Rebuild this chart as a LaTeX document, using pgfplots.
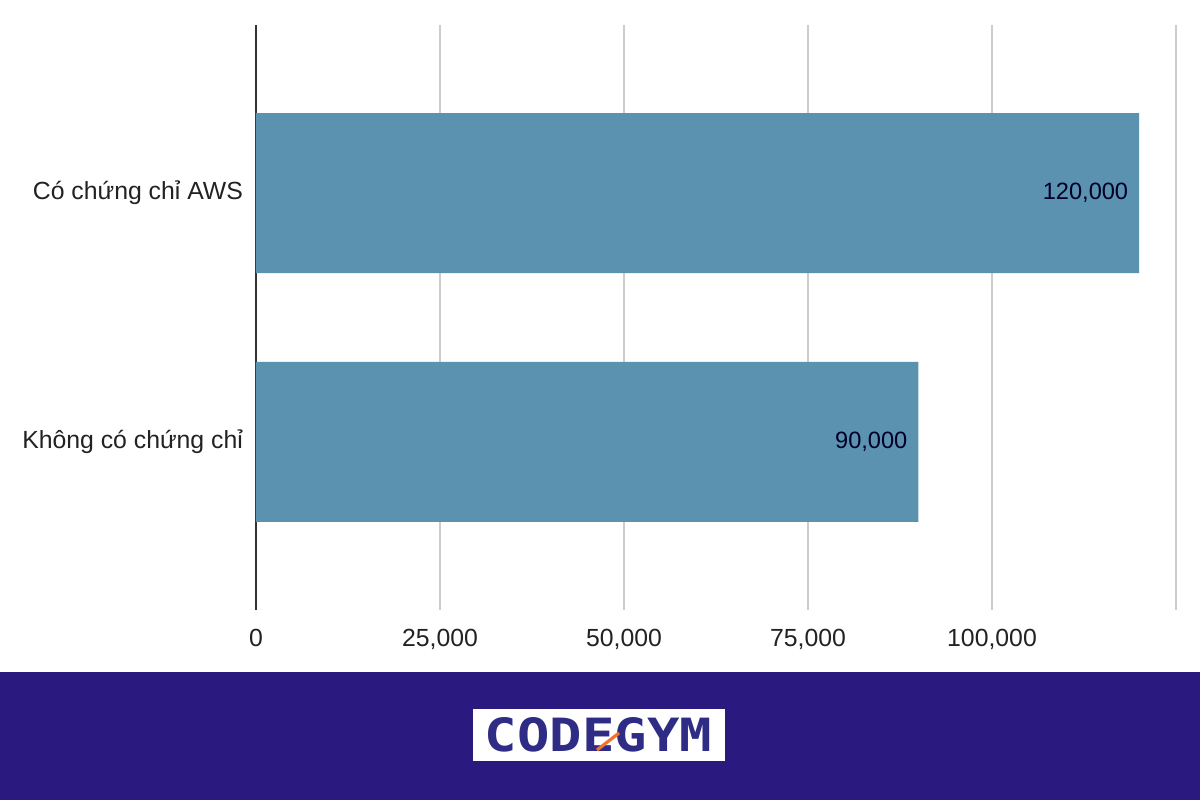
\documentclass[border=0pt]{standalone}
\usepackage{pgfplots}
\pgfplotsset{compat=1.18}
\usepackage{graphicx}
\usepackage{fontspec}
\setmainfont{Liberation Sans}
\newfontfamily\logofont{DejaVu Sans Mono}
\definecolor{barblue}{HTML}{5A92AF}
\definecolor{banner}{HTML}{2A1A80}
\definecolor{logoblue}{HTML}{2E2C84}
\definecolor{logoorange}{HTML}{F0742C}
\definecolor{gridgray}{HTML}{CCCCCC}
\definecolor{labeltext}{HTML}{222222}

\begin{document}
\begin{tikzpicture}
\useasboundingbox (0,0) rectangle (600pt,400pt);
\fill[white] (0,0) rectangle (600pt,400pt);
% banner with logo
\fill[banner] (0,0) rectangle (600pt,64pt);
\fill[white] (236.5pt,19.5pt) rectangle (362.5pt,45.5pt);
\node[inner sep=0, text=logoblue] at (299.25pt,32.5pt)
  {\resizebox{113.5pt}{17pt}{\logofont\bfseries CODEGYM}};
\draw[logoorange, line width=1.6pt] (298.5pt,25pt) -- (309.5pt,33.5pt);

\begin{axis}[
    at={(128pt,95pt)}, anchor=south west,
    width=460pt, height=292.5pt, scale only axis,
    xbar, bar width=80pt, bar shift=0pt,
    xmin=0, xmax=125000,
    ymin=-0.675, ymax=1.675, y dir=reverse,
    axis line style={draw=none},
    major tick length=0pt,
    scaled x ticks=false,
    xtick={25000,50000,75000,100000,125000},
    xticklabels={{25,000},{50,000},{75,000},{100,000},{}},
    extra x ticks={0}, extra x tick labels={0},
    extra x tick style={grid style={color=black!80, line width=1pt}},
    xmajorgrids,
    grid style={color=gridgray, line width=1pt},
    ytick={0,1},
    yticklabels={{Có chứng chỉ AWS},{Không có chứng chỉ}},
    ticklabel style={font=\fontsize{12.4}{14}\selectfont, text=labeltext},
    xticklabel style={yshift=-6pt},
    yticklabel style={xshift=-3pt},
    point meta=explicit symbolic,
    nodes near coords,
    every node near coord/.append style={anchor=east, xshift=-2pt,
        font=\fontsize{11.8}{14}\selectfont, text=black!85!blue},
]
\addplot[draw=none, fill=barblue] coordinates {(120000,0) [120{,}000] (90000,1) [90{,}000]};
\end{axis}
\end{tikzpicture}
\end{document}
